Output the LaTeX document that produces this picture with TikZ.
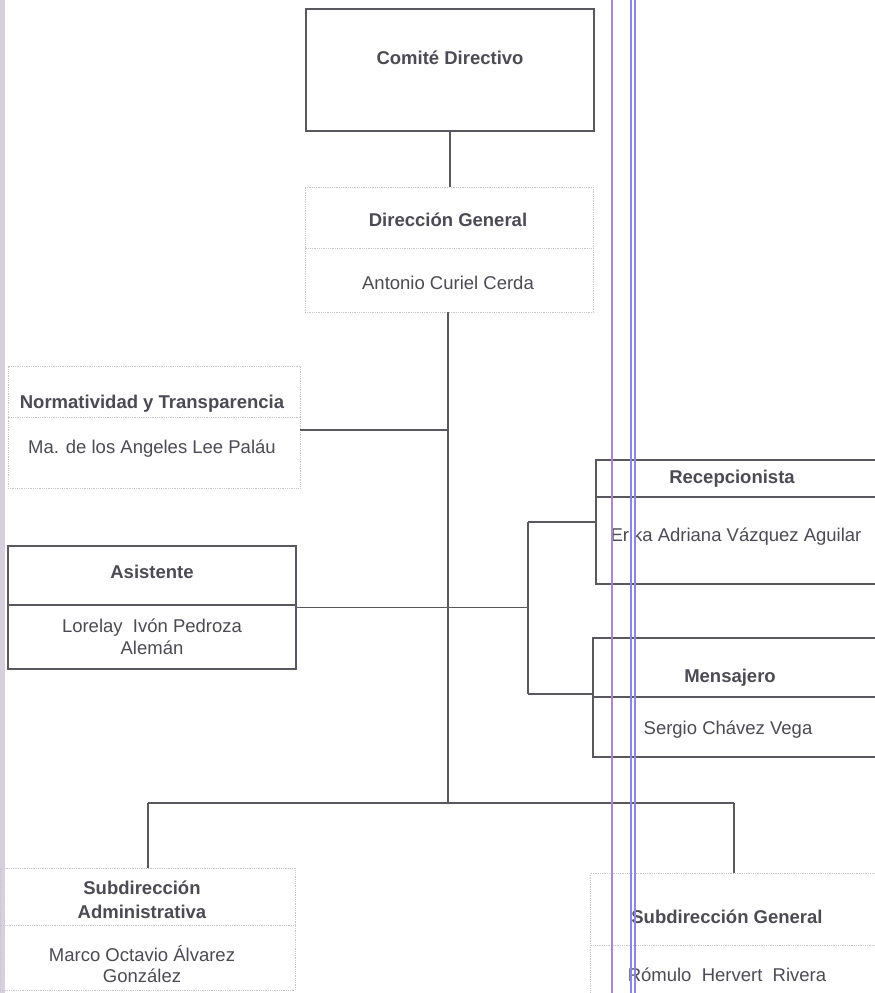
\documentclass[tikz,border=0pt]{standalone}
\usepackage{fontspec}
\setmainfont{Liberation Sans}
\definecolor{ink}{HTML}{4C4A52}
\definecolor{linec}{HTML}{5A585E}
\definecolor{faint}{HTML}{C8C6CC}
\definecolor{purp}{HTML}{A88ACC}
\definecolor{blu}{HTML}{8C86E0}
\definecolor{edge}{HTML}{D6D0DC}
\begin{document}
\begin{tikzpicture}[x=1pt,y=-1pt,
  box/.style={rectangle,inner sep=0pt,draw=linec,line width=1.2pt},
  dotbox/.style={rectangle,inner sep=0pt,draw=faint,line width=0.8pt,densely dotted},
  conn/.style={draw=linec,line width=1.3pt},
  divsolid/.style={draw=linec,line width=1.1pt},
  divdot/.style={draw=faint,line width=0.8pt,densely dotted},
  ttl/.style={font=\fontsize{18.5}{24}\selectfont\bfseries,text=ink,align=center,inner sep=0pt},
  nm/.style={font=\fontsize{18.5}{21.5}\selectfont,text=ink,align=center,inner sep=0pt},
  vline/.style={line width=1.4pt}]
\useasboundingbox (0,0) rectangle (875,993);
\clip (0,0) rectangle (875,993);
\fill[white] (0,0) rectangle (875,993);
\fill[edge] (0,0) rectangle (5,993);

% boxes
\node[box, minimum width=288pt, minimum height=122pt] (cd) at (450,70) {};
\node[dotbox, minimum width=288pt, minimum height=125pt] (dg) at (449,249.5) {};
\node[dotbox, minimum width=292pt, minimum height=122pt] (norm) at (154,427) {};
\node[box, minimum width=288pt, minimum height=123pt] (asis) at (152,607.5) {};
\node[box, minimum width=284pt, minimum height=124pt] (recep) at (738,522) {};
\node[box, minimum width=287pt, minimum height=119pt] (mens) at (736.5,697.5) {};
\node[dotbox, minimum width=295pt, minimum height=122pt] (sa) at (147.5,929) {};
\node[dotbox, minimum width=290pt, minimum height=122pt] (sg) at (735,934) {};

% dividers
\draw[divdot] (dg.west |- 0,248) -- (dg.east |- 0,248);
\draw[divdot] (norm.west |- 0,417) -- (norm.east |- 0,417);
\draw[divsolid] (asis.west |- 0,605) -- (asis.east |- 0,605);
\draw[divsolid] (recep.west |- 0,497) -- (recep.east |- 0,497);
\draw[divsolid] (mens.west |- 0,697) -- (mens.east |- 0,697);
\draw[divdot] (sa.west |- 0,925) -- (sa.east |- 0,925);
\draw[divdot] (sg.west |- 0,945) -- (sg.east |- 0,945);

% texts
\node[ttl] (cdt) at (450,58) {Comité Directivo};
\node[ttl] (dgt) at (448,220) {Dirección General};
\node[nm] (dgn) at (448,283) {Antonio Curiel Cerda};
\node[ttl] (normt) at (152,404) {Normatividad y Transparencia};
\node[nm] (normn) at (152,449) {Ma. de los Angeles Lee Paláu};
\node[ttl] (asist) at (152,572) {Asistente};
\node[nm] (asisn) at (152,637) {Lorelay\ \ Ivón Pedroza\\Alemán};
\node[ttl] (recept) at (732,479) {Recepcionista};
\node[nm] (recepn) at (736,537) {Erika Adriana Vázquez Aguilar};
\node[ttl] (menst) at (730,678) {Mensajero};
\node[nm] (mensn) at (728,730) {Sergio Chávez Vega};
\node[ttl] (sat) at (142,900) {Subdirección\\Administrativa};
\node[nm] (san) at (142,964) {Marco Octavio Álvarez\\González};
\node[ttl] (sgt) at (727,917) {Subdirección General};
\node[nm] (sgn) at (727,975) {Rómulo\ \ Hervert\ \ Rivera};

% connectors
\coordinate (j1) at (448,430);
\coordinate (j3) at (448,803);
\coordinate (ka) at (528,522);
\coordinate (kb) at (528,694);
\coordinate (bl) at (148,803);
\coordinate (br) at (734,803);
\draw[conn] (cd.south) -- (cd.south |- dg.north);
\draw[conn] (448,312) -- (j3);
\draw[conn] (j1) -- (j1 -| norm.east);
\draw[conn] (asis.east) -- (asis.east -| ka);
\draw[conn] (ka) -- (kb);
\draw[conn] (ka) -- (ka -| recep.west);
\draw[conn] (kb) -- (kb -| mens.west);
\draw[conn] (bl) -- (br);
\draw[conn] (bl) -- (bl |- sa.north);
\draw[conn] (br) -- (br |- sg.north);

% scan margin lines
\draw[vline, purp] (612,0) -- (612,993);
\draw[vline, blu] (631,0) -- (631,993);
\draw[vline, blu] (635,0) -- (635,993);
\end{tikzpicture}
\end{document}
